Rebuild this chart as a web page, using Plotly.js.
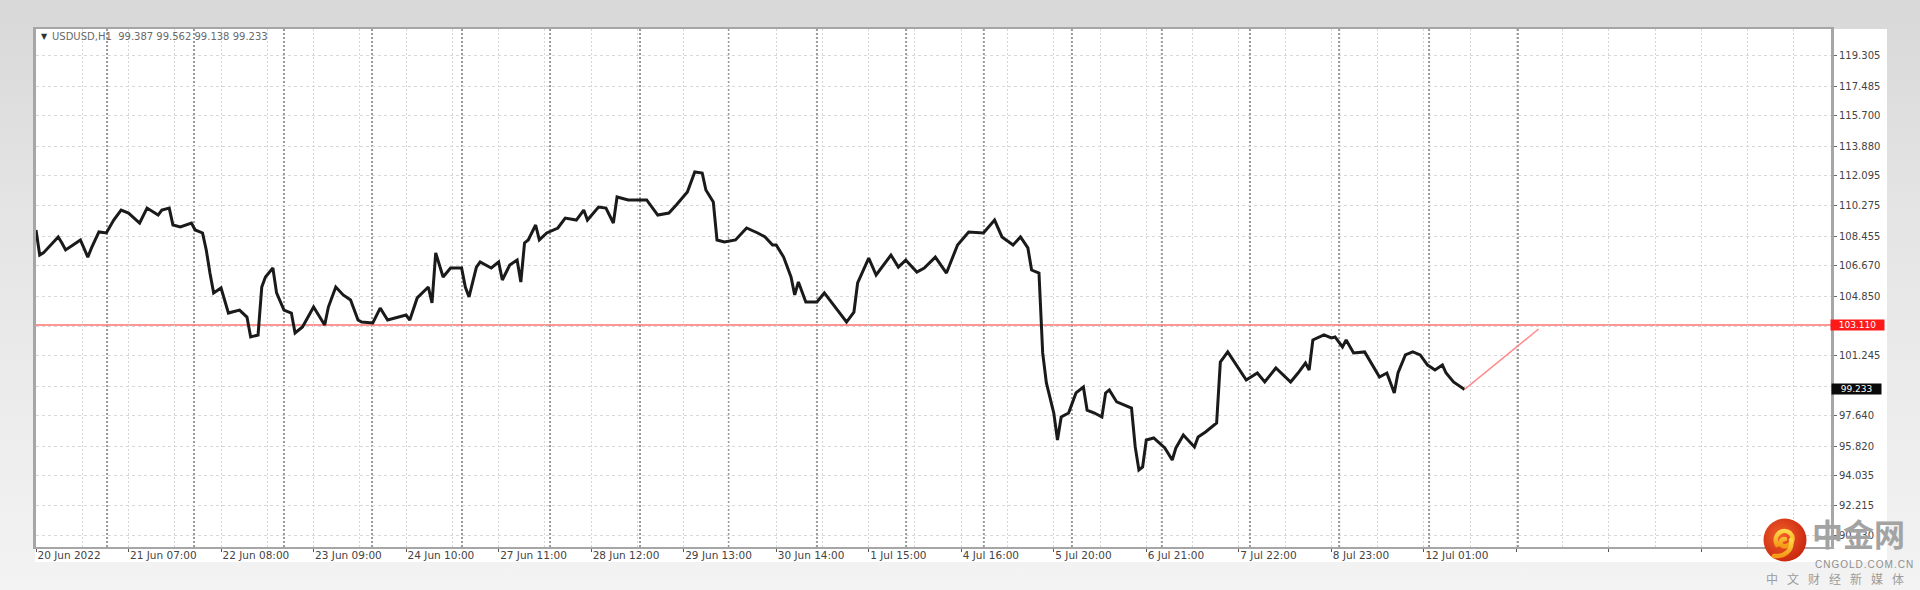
<!DOCTYPE html>
<html><head><meta charset="utf-8">
<script src="https://cdn.plot.ly/plotly-3.0.1.min.js"></script>
<style>
html,body{margin:0;padding:0;width:1920px;height:590px;overflow:hidden;}
body{background:linear-gradient(to bottom,#d8d8d8 0%,#e4e4e4 35%,#f3f3f3 100%);position:relative;font-family:"DejaVu Sans",sans-serif;}
#panel{position:absolute;left:35px;top:29px;width:1852px;height:533px;background:#ffffff;}
#chart{position:absolute;left:0;top:0;width:1920px;height:590px;}
#logo{position:absolute;left:1762px;top:514px;width:158px;height:76px;}
#logo svg{position:absolute;left:0;top:4px;}
#cn1{position:absolute;left:50px;top:2px;font-family:"Noto Sans CJK SC";font-weight:700;font-size:31px;line-height:34px;color:#a3a3a3;white-space:nowrap;}
#cn2{position:absolute;left:53px;top:45px;font-family:"Liberation Sans";font-size:10px;line-height:12px;letter-spacing:1px;color:#8e8e8e;white-space:nowrap;}
#cn3{position:absolute;left:4px;top:58px;font-family:"Noto Sans CJK SC";font-size:12px;line-height:14px;letter-spacing:9px;color:#9c9c9c;white-space:nowrap;}
</style></head>
<body>
<div id="panel"></div>
<div id="chart"></div>
<div id="logo">
  <svg width="46" height="46" viewBox="0 0 46 46">
    <defs>
      <radialGradient id="rg" cx="40%" cy="40%" r="65%">
        <stop offset="0%" stop-color="#f2602a"/>
        <stop offset="100%" stop-color="#c8260f"/>
      </radialGradient>
      <linearGradient id="yg" x1="0" y1="0" x2="0" y2="1">
        <stop offset="0%" stop-color="#ffd84a"/>
        <stop offset="100%" stop-color="#f59a14"/>
      </linearGradient>
    </defs>
    <circle cx="23" cy="22" r="21.5" fill="url(#rg)"/>
    <path d="M15 27 C10 17 21 9 28 15 C34 21 28 30 21 28 C17 27 18 21 23 21" fill="none" stroke="url(#yg)" stroke-width="4.5" stroke-linecap="round"/>
    <path d="M29 22 C31 32 23 39 12 38" fill="none" stroke="url(#yg)" stroke-width="4.5" stroke-linecap="round"/>
  </svg>
  <div id="cn1">中金网</div>
  <div id="cn2">CNGOLD.COM.CN</div>
  <div id="cn3">中文财经新媒体</div>
</div>
<script>
// ---- data (H1 bar index since 20 Jun 2022, close price) ----
const bars = [0,1,2,6,7,8,10,12,14,15,17,19,21,23,25,28,30,33,34,36,37,39,42,43,45,46,47,48,50,52,53,55,57,58,60,61,62,64,65,67,69,70,72,75,76,78,79,81,83,85,87,88,91,93,95,97,100,101,103,106,107,108,110,112,115,116,117,119,120,
123,125,126,128,130,131,132,133,135,136,138,141,143,146,148,149,152,154,156,157,160,165,168,171,173,176,178,180,181,183,184,186,189,192,195,197,199,200,202,204,205,206,208,211,213,216,219,221,222,225,227,231,233,235,238,240,243,246,249,252,256,259,261,264,266,268,269,271,
272,273,275,276,277,279,281,283,284,286,288,289,290,292,294,296,297,298,299,300,302,305,307,308,310,313,314,316,319,320,322,324,327,330,332,335,337,339,341,343,344,345,348,350,351,353,354,356,359,361,363,365,367,368,370,372,374,376,378,380,381,383,386];
const closes = [108.83,107.32,107.45,108.41,108.05,107.63,107.93,108.23,107.20,107.75,108.71,108.65,109.43,110.03,109.85,109.25,110.15,109.73,110.03,110.15,109.13,109.01,109.25,108.83,108.65,107.63,106.24,105.04,105.34,103.83,103.89,104.01,103.59,102.39,102.51,105.40,106.00,106.54,105.04,104.01,103.83,102.63,102.99,104.19,103.83,103.11,104.19,105.40,104.92,104.62,103.41,103.29,103.23,104.13,103.41,103.53,103.71,103.41,104.74,105.40,104.44,107.45,106.00,106.54,106.54,105.40,104.80,106.60,106.90,
106.54,106.90,105.82,106.72,107.02,105.70,108.05,108.23,109.13,108.23,108.65,108.95,109.55,109.43,110.03,109.43,110.21,110.15,109.25,110.82,110.64,110.64,109.73,109.85,110.34,111.12,112.32,112.26,111.24,110.52,108.23,108.11,108.23,108.95,108.65,108.41,107.93,107.93,107.20,106.00,104.92,105.70,104.50,104.50,105.04,104.19,103.29,103.89,105.64,107.14,106.12,107.32,106.60,107.02,106.30,106.54,107.20,106.24,107.93,108.71,108.65,109.43,108.41,107.93,108.41,107.75,106.42,106.24,
101.43,99.62,97.81,96.19,97.57,97.81,99.02,99.38,97.99,97.81,97.57,99.02,99.20,98.48,98.30,98.11,95.77,94.38,94.56,96.19,96.31,95.71,94.98,95.71,96.49,95.77,96.37,96.67,97.21,100.88,101.49,100.82,99.80,100.22,99.68,100.52,100.10,99.68,100.22,100.82,100.40,102.21,102.51,102.33,102.39,101.79,102.21,101.43,101.49,100.70,99.98,100.22,99.02,100.22,101.31,101.49,101.31,100.70,100.40,100.70,100.22,99.68,99.233];

const tickBars = [0,25,50,75,100,125,150,175,200,225,250,275,300,325,350,375];
const tickLabels = ['20 Jun 2022','21 Jun 07:00','22 Jun 08:00','23 Jun 09:00','24 Jun 10:00','27 Jun 11:00','28 Jun 12:00','29 Jun 13:00','30 Jun 14:00','1 Jul 15:00','4 Jul 16:00','5 Jul 20:00','6 Jul 21:00','7 Jul 22:00','8 Jul 23:00','12 Jul 01:00'];
const dayStarts = [19.2,42.7,67,90.8,115.1,138.9,163.2,187.2,211,235.1,256.1,279.9,304.2,328,352.1,376.4,400.4];

const priceTicks = [119.305,117.485,115.700,113.880,112.095,110.275,108.455,106.670,104.850,103.030,101.245,99.425,97.640,95.820,94.035,92.215,90.430];
const priceLabels = ['119.305','117.485','115.700','113.880','112.095','110.275','108.455','106.670','104.850','','101.245','','97.640','95.820','94.035','92.215','90.430'];

const levelPrice = 103.11, levelLabel = '103.110';
const lastPrice = 99.233, lastLabel = '99.233';
const projBars = [386, 406];
const projPrices = [99.233, 102.87];
const symbolText = 'USDUSD,H1  99.387 99.562 99.138 99.233';

// ---- axis helpers ----
const xMax = 485;
const step = tickBars[1] - tickBars[0];
const majorVals = [], majorText = [];
for (let v = 0; v <= xMax; v += step) {
  majorVals.push(v);
  const i = tickBars.indexOf(v);
  majorText.push(i >= 0 ? tickLabels[i] : '');
}
const minorVals = majorVals.map(v => v + step / 2).filter(v => v < xMax);

const shapes = dayStarts.map(d => ({
  type: 'line', xref: 'x', yref: 'paper', x0: d, x1: d, y0: 0, y1: 1,
  line: {color: '#9a9a9a', width: 2, dash: '2px,2px'}, layer: 'below'
}));
shapes.push({type: 'line', xref: 'paper', yref: 'y', x0: 0, x1: 1, y0: levelPrice, y1: levelPrice,
  line: {color: '#ff7373', width: 1.5}, layer: 'below'});

const traces = [
  {x: bars, y: closes, type: 'scatter', mode: 'lines', line: {color: '#1a1a1a', width: 3}, hoverinfo: 'skip'},
  {x: projBars, y: projPrices, type: 'scatter', mode: 'lines', line: {color: '#ff8c8c', width: 1.5}, hoverinfo: 'skip'}
];

const layout = {
  width: 1920, height: 590,
  margin: {l: 36, r: 89, t: 29, b: 43},
  paper_bgcolor: 'rgba(0,0,0,0)',
  plot_bgcolor: '#ffffff',
  showlegend: false,
  font: {family: 'DejaVu Sans', size: 10, color: '#444'},
  xaxis: {
    range: [0, xMax], tickmode: 'array', tickvals: majorVals, ticktext: majorText,
    ticks: 'outside', ticklen: 3, tickcolor: '#555', ticklabelposition: 'outside right', ticklabelstandoff: -3,
    tickfont: {family: 'DejaVu Sans', size: 10.5, color: '#444'},
    showgrid: true, gridcolor: '#d6d6d6', gridwidth: 1, griddash: '2px,2px',
    minor: {tickvals: minorVals, showgrid: true, gridcolor: '#d6d6d6', gridwidth: 1, griddash: '2px,2px', ticks: ''},
    showline: true, linecolor: '#a6a6a6', linewidth: 2, mirror: true, zeroline: false, fixedrange: true
  },
  yaxis: {
    side: 'right', range: [89.746, 120.930], tickmode: 'array', tickvals: priceTicks, ticktext: priceLabels,
    ticks: 'outside', ticklen: 3, tickcolor: '#666',
    tickfont: {family: 'DejaVu Sans', size: 10, color: '#444'},
    showgrid: true, gridcolor: '#d8d8d8', gridwidth: 1, griddash: '3px,3px',
    showline: true, linecolor: '#a6a6a6', linewidth: 3, mirror: true, zeroline: false, fixedrange: true
  },
  shapes: shapes,
  annotations: [
    {xref: 'paper', yref: 'paper', x: 0, y: 1, xanchor: 'left', yanchor: 'top', xshift: 3, yshift: -1,
     text: '▼', showarrow: false, font: {family: 'DejaVu Sans', size: 8, color: '#333'}},
    {xref: 'paper', yref: 'paper', x: 0, y: 1, xanchor: 'left', yanchor: 'top', xshift: 14, yshift: 0,
     text: symbolText.replace(/ /g, '&nbsp;'), showarrow: false, font: {family: 'DejaVu Sans', size: 10, color: '#6a6a6a'}},
    {xref: 'paper', yref: 'y', x: 1, y: levelPrice, xanchor: 'left', yanchor: 'middle', xshift: -1,
     text: levelLabel, showarrow: false, bgcolor: '#ff1a1a', width: 53, height: 10, borderpad: 0,
     font: {family: 'DejaVu Sans', size: 9, color: '#ffffff'}},
    {xref: 'paper', yref: 'y', x: 1, y: lastPrice, xanchor: 'left', yanchor: 'middle', xshift: 0,
     text: lastLabel, showarrow: false, bgcolor: '#0a0a0a', width: 49, height: 10, borderpad: 0,
     font: {family: 'DejaVu Sans', size: 9, color: '#ffffff'}}
  ]
};

Plotly.newPlot('chart', traces, layout, {staticPlot: true, displayModeBar: false});
</script>
</body></html>
